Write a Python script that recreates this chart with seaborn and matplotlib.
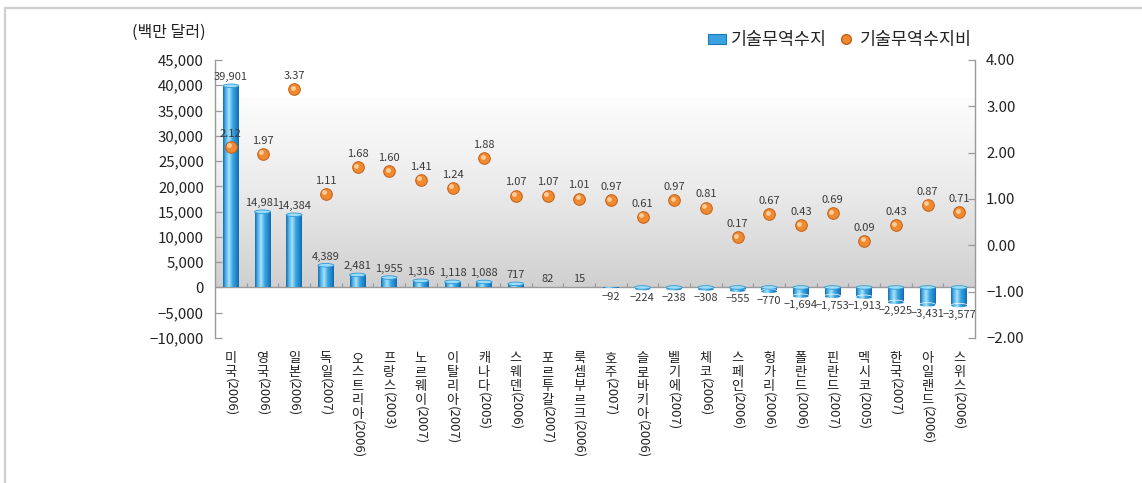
import numpy as np
import pandas as pd
import matplotlib
matplotlib.use("Agg")
import matplotlib.pyplot as plt
import matplotlib.transforms as mtransforms
from matplotlib.colors import LinearSegmentedColormap
from matplotlib.patches import Patch, Ellipse
from matplotlib.lines import Line2D
import seaborn as sns

# ---- data -------------------------------------------------------------
countries = ["미국", "영국", "일본", "독일", "오스트리아", "프랑스", "노르웨이", "이탈리아",
             "캐나다", "스웨덴", "포르투갈", "룩셈부르크", "호주", "슬로바키아", "벨기에", "체코",
             "스페인", "헝가리", "폴란드", "핀란드", "멕시코", "한국", "아일랜드", "스위스"]
years = ["2006", "2006", "2006", "2007", "2006", "2003", "2007", "2007",
         "2005", "2006", "2007", "2006", "2007", "2006", "2007", "2006",
         "2006", "2006", "2006", "2007", "2005", "2007", "2006", "2006"]
balance = [39901, 14981, 14384, 4389, 2481, 1955, 1316, 1118,
           1088, 717, 82, 15, -92, -224, -238, -308,
           -555, -770, -1694, -1753, -1913, -2925, -3431, -3577]
ratio = [2.12, 1.97, 3.37, 1.11, 1.68, 1.60, 1.41, 1.24,
         1.88, 1.07, 1.07, 1.01, 0.97, 0.61, 0.97, 0.81,
         0.17, 0.67, 0.43, 0.69, 0.09, 0.43, 0.87, 0.71]
left_ticks = [45000, 40000, 35000, 30000, 25000, 20000, 15000, 10000, 5000, 0, -5000, -10000]
right_ticks = [4.0, 3.0, 2.0, 1.0, 0.0, -1.0, -2.0]
legend_labels = ["기술무역수지", "기술무역수지비"]
unit_label = "(백만 달러)"

df = pd.DataFrame({"pos": np.arange(len(countries)), "country": countries,
                   "year": years, "balance": balance, "ratio": ratio})

# ---- style ------------------------------------------------------------
sns.set_style("white")
plt.rcParams["font.family"] = ["Noto Sans CJK KR", "DejaVu Sans"]
plt.rcParams["axes.unicode_minus"] = True

W, H = 1142, 483
fig = plt.figure(figsize=(W / 100, H / 100), dpi=100)
fig.patch.set_facecolor("white")

x0, x1, y0, y1 = 215, 975, 60, 338
ax = fig.add_axes([x0 / W, 1 - y1 / H, (x1 - x0) / W, (y1 - y0) / H])
ax.set_facecolor("none")
ax2 = ax.twinx()

TEXT = "#222222"
AXIS = "#9a9a9a"

# ---- bars ---------------------------------------------------------------
sns.barplot(data=df, x="pos", y="balance", native_scale=True, width=0.5,
            color="#2f9ad8", ax=ax, zorder=3, linewidth=0)

ax.set_xlim(-0.5, len(countries) - 0.5)
ax.set_ylim(-10000, 45000)

# soft grey backdrop above the zero line
grad = np.linspace(0, 1, 256).reshape(-1, 1)
bg_cmap = LinearSegmentedColormap.from_list("bg", ["#d0d0d0", "#eaeaea", "#fdfdfd"])
ax.imshow(grad, cmap=bg_cmap, aspect="auto", origin="lower",
          extent=(-0.5, len(countries) - 0.5, 0, 37200), zorder=0)

# cylinder shading on every bar
bar_cmap = LinearSegmentedColormap.from_list(
    "bar", [(0.0, "#136cae"), (0.18, "#4fb4ea"), (0.38, "#a9e2fa"),
            (0.62, "#3aa4e2"), (0.85, "#1f86c8"), (1.0, "#1566a6")])
hgrad = np.linspace(0, 1, 128).reshape(1, -1)
cap_h = 700
for patch, v in zip(ax.patches, balance):
    bx, bw = patch.get_x(), patch.get_width()
    by, bh = patch.get_y(), patch.get_height()
    patch.set_facecolor("none")
    lo, hi = min(by, by + bh), max(by, by + bh)
    if hi - lo <= 0:
        continue
    im = ax.imshow(hgrad, cmap=bar_cmap, aspect="auto",
                   extent=(bx, bx + bw, lo, hi), zorder=3)
    im.set_clip_path(patch)
    if abs(v) >= 200:
        if v < 0:
            end = Ellipse((bx + bw / 2, lo), bw, cap_h, zorder=3)
            ax.add_patch(end)
            end.set_facecolor("none")
            im2 = ax.imshow(hgrad, cmap=bar_cmap, aspect="auto",
                            extent=(bx, bx + bw, lo - cap_h, hi), zorder=3)
            im2.set_clip_path(end)
        ax.add_patch(Ellipse((bx + bw / 2, hi), bw, cap_h, facecolor="#9fdcf7",
                             edgecolor="#2f9ad8", linewidth=0.6, zorder=4))

# zero line with small category separators
ax.axhline(0, color=AXIS, linewidth=1.0, zorder=2)
ax.vlines(np.arange(len(countries) - 1) + 0.5, 0, 800, color=AXIS, linewidth=0.9, zorder=2)

# bar value labels
for p, v in zip(df["pos"], df["balance"]):
    txt = f"{v:,}".replace("-", "−")
    if v >= 0:
        ax.annotate(txt, (p, v), xytext=(0, 2.5), textcoords="offset points",
                    ha="center", va="bottom", fontsize=8, color="#3a3a3a", zorder=6)
    else:
        ax.annotate(txt, (p, v), xytext=(0, -3), textcoords="offset points",
                    ha="center", va="top", fontsize=8, color="#3a3a3a", zorder=6)

# ---- ratio dots -----------------------------------------------------------
sns.scatterplot(data=df, x="pos", y="ratio", ax=ax2, s=70, color="#ef8a2e",
                edgecolor="#c45e16", linewidth=0.7, zorder=5, legend=False)
hl = ax2.transData + mtransforms.ScaledTranslation(-1.2 / 72, 1.2 / 72, fig.dpi_scale_trans)
ax2.scatter(df["pos"], df["ratio"], s=12, color="#ffd9b0", alpha=0.85,
            linewidth=0, transform=hl, zorder=6)
for p, r in zip(df["pos"], df["ratio"]):
    ax2.annotate(f"{r:.2f}", (p, r), xytext=(0, 6), textcoords="offset points",
                 ha="center", va="bottom", fontsize=8, color="#3a3a3a", zorder=7)
ax2.set_ylim(-2, 4)
ax2.set_xlim(-0.5, len(countries) - 0.5)

# ---- axes cosmetics ---------------------------------------------------------
for a in (ax, ax2):
    a.set_xticks([])
    a.set_xlabel("")
    a.set_ylabel("")
    for s in ("top", "bottom"):
        a.spines[s].set_visible(False)
    a.grid(False)
ax.spines["right"].set_visible(False)
ax2.spines["left"].set_visible(False)
ax.spines["left"].set_color(AXIS)
ax2.spines["right"].set_color(AXIS)
ax.spines["left"].set_linewidth(1.0)
ax2.spines["right"].set_linewidth(1.0)

ax.set_yticks(left_ticks)
ax.set_yticklabels([f"{t:,}".replace("-", "−") for t in left_ticks])
ax2.set_yticks(right_ticks)
ax2.set_yticklabels([f"{t:.2f}".replace("-", "−") for t in right_ticks])
ax.tick_params(axis="y", direction="in", length=5, width=0.9, color=AXIS,
               labelsize=10.8, labelcolor=TEXT, pad=8, left=True)
ax2.tick_params(axis="y", direction="in", length=5, width=0.9, color=AXIS,
                labelsize=10.8, labelcolor=TEXT, pad=8, right=True)

# ---- category labels written vertically -----------------------------------
lab_tr = mtransforms.blended_transform_factory(ax.transData, fig.transFigure)
lab_y = 1 - 352 / H
step = 10.1  # points per stacked character
for p, name, yr in zip(df["pos"], df["country"], df["year"]):
    for k, ch in enumerate(name):
        ax.annotate(ch, (p, lab_y), xycoords=lab_tr, xytext=(0, -k * step),
                    textcoords="offset points", ha="center", va="top",
                    fontsize=9.5, color=TEXT, annotation_clip=False)
    ax.annotate(f"({yr})", (p, lab_y), xycoords=lab_tr,
                xytext=(0, -len(name) * step + 1.5), textcoords="offset points",
                rotation=-90, ha="center", va="top", fontsize=9.5, color=TEXT,
                annotation_clip=False)

# ---- unit label & legend -------------------------------------------------
fig.text(206 / W, 1 - 32 / H, unit_label, ha="right", va="center", fontsize=11.5, color=TEXT)

handles = [Patch(facecolor="#3aa2de", edgecolor="#1a78b8", linewidth=0.8),
           Line2D([], [], marker="o", linestyle="", markersize=7,
                  markerfacecolor="#ef8a2e", markeredgecolor="#c45e16")]
fig.legend(handles, legend_labels, loc="center right",
           bbox_to_anchor=(984 / W, 1 - 40 / H), ncol=2, frameon=False,
           fontsize=12.5, handlelength=1.0, handleheight=0.5, handletextpad=0.3,
           columnspacing=0.6, labelcolor=TEXT, borderpad=0.2)

# ---- page frame ---------------------------------------------------------
fig.add_artist(Line2D([5 / W, 1], [1 - 8 / H, 1 - 8 / H], transform=fig.transFigure,
                      color="#cfcfcf", linewidth=1.6))
fig.add_artist(Line2D([5 / W, 5 / W], [0, 1 - 8 / H], transform=fig.transFigure,
                      color="#cfcfcf", linewidth=1.6))

fig.savefig("out.png", dpi=100, facecolor="white")
